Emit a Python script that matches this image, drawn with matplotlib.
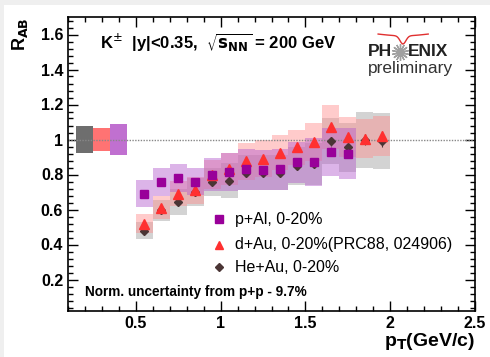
import matplotlib
matplotlib.use("Agg")
import matplotlib.pyplot as plt
import numpy as np
from matplotlib.patches import Rectangle
from matplotlib.ticker import MultipleLocator

plt.rcParams['font.family'] = ['Liberation Sans', 'DejaVu Sans']

# pT bin centres (GeV/c)
pt_pal = [0.55, 0.65, 0.75, 0.85, 0.95, 1.05, 1.15, 1.25, 1.35, 1.45, 1.55, 1.65, 1.75]
pt_dau = [0.55, 0.65, 0.75, 0.85, 0.95, 1.05, 1.15, 1.25, 1.35, 1.45, 1.55, 1.65, 1.75, 1.85, 1.95]
pt_heau = [0.55, 0.65, 0.75, 0.85, 0.95, 1.05, 1.15, 1.25, 1.35, 1.45, 1.55, 1.65, 1.75, 1.85, 1.95]

# R_AB values
r_pal = [0.69, 0.76, 0.78, 0.76, 0.80, 0.815, 0.83, 0.825, 0.83, 0.87, 0.87, 0.93, 0.92]
r_dau = [0.52, 0.61, 0.69, 0.71, 0.80, 0.83, 0.875, 0.89, 0.925, 0.955, 0.985, 1.07, 1.015, 1.005, 1.02]
r_heau = [0.48, 0.595, 0.645, 0.70, 0.755, 0.765, 0.81, 0.81, 0.81, 0.85, 0.86, 0.99, 0.955, 1.0, 0.99]

# statistical errors
stat_pal = [0.01, 0.01, 0.01, 0.01, 0.01, 0.01, 0.012, 0.012, 0.014, 0.016, 0.018, 0.025, 0.025]
stat_dau = [0.01, 0.01, 0.01, 0.01, 0.01, 0.01, 0.012, 0.012, 0.014, 0.016, 0.018, 0.025, 0.025, 0.025, 0.03]
stat_heau = [0.01, 0.01, 0.01, 0.01, 0.01, 0.01, 0.012, 0.012, 0.014, 0.016, 0.018, 0.025, 0.025, 0.03, 0.03]

# systematic errors
sys_pal = [0.077, 0.08, 0.08, 0.078, 0.095, 0.11, 0.116, 0.116, 0.116, 0.118, 0.137, 0.136, 0.145]
sys_dau = [0.057, 0.066, 0.072, 0.078, 0.085, 0.092, 0.105, 0.105, 0.10, 0.10, 0.11, 0.125, 0.115, 0.11, 0.115]
sys_heau = [0.05, 0.062, 0.074, 0.08, 0.08, 0.10, 0.10, 0.10, 0.10, 0.11, 0.12, 0.13, 0.14, 0.16, 0.16]

# global normalisation boxes at R_AB = 1: (x-left, x-right, half height)
norm_heau = (0.15, 0.245, 0.077)
norm_dau = (0.245, 0.35, 0.064)
norm_pal = (0.35, 0.45, 0.088)

bin_half = 0.05

fig = plt.figure(figsize=(4.9, 3.57), dpi=100, facecolor='#efefef')
fig.patches.append(Rectangle((4 / 490, 0), 1, 1 - 5 / 357, transform=fig.transFigure,
                             facecolor='white', edgecolor='none', zorder=-10))
ax = fig.add_axes([68 / 490, 1 - 311 / 357, (475 - 68) / 490, (311 - 17) / 357])
ax.set_zorder(5)
ax.set_xlim(0.1, 2.5)
ax.set_ylim(0.02, 1.70)

c_pal_box = (0.70, 0.35, 0.80)
c_dau_box = (1.0, 0.55, 0.55)
c_heau_box = (0.62, 0.62, 0.62)


def sys_boxes(x, y, s, color, alpha):
    for xi, yi, si in zip(x, y, s):
        ax.add_patch(Rectangle((xi - bin_half, yi - si), 2 * bin_half, 2 * si,
                               facecolor=color, edgecolor='none', alpha=alpha, zorder=1))


sys_boxes(pt_heau, r_heau, sys_heau, c_heau_box, 0.45)
sys_boxes(pt_dau, r_dau, sys_dau, c_dau_box, 0.45)
sys_boxes(pt_pal, r_pal, sys_pal, c_pal_box, 0.45)

# normalisation boxes
ax.add_patch(Rectangle((norm_heau[0], 1 - norm_heau[2]), norm_heau[1] - norm_heau[0], 2 * norm_heau[2],
                       facecolor='#6e6e6e', edgecolor='none', zorder=2))
ax.add_patch(Rectangle((norm_dau[0], 1 - norm_dau[2]), norm_dau[1] - norm_dau[0], 2 * norm_dau[2],
                       facecolor='#ff7373', edgecolor='none', zorder=2))
ax.add_patch(Rectangle((norm_pal[0], 1 - norm_pal[2]), norm_pal[1] - norm_pal[0], 2 * norm_pal[2],
                       facecolor='#c070d0', edgecolor='none', zorder=2))

ax.axhline(1.0, color='#888888', lw=1.0, ls=(0, (1, 1)), zorder=2)

ax.errorbar(pt_heau, r_heau, yerr=stat_heau, fmt='D', ms=4.2, color='#4a3535',
            mec='#4a3535', elinewidth=0.8, capsize=0, zorder=4)
ax.errorbar(pt_dau, r_dau, yerr=stat_dau, fmt='^', ms=6.5, color='#ff3030',
            mec='#ff3030', elinewidth=0.8, capsize=0, zorder=5)
ax.errorbar(pt_pal, r_pal, yerr=stat_pal, fmt='s', ms=6, color='#990099',
            mec='#990099', elinewidth=0.8, capsize=0, zorder=6)

# legend
leg_rows = [('s', '#990099', 5.5, 'p+Al, 0-20%', 0.545),
            ('^', '#ff3030', 5.5, 'd+Au, 0-20%(PRC88, 024906)', 0.400),
            ('D', '#4a3535', 4.0, 'He+Au, 0-20%', 0.270)]
for m, c, ms, lab, yy in leg_rows:
    ax.plot([0.99], [yy], marker=m, color=c, ms=ms, ls='none', zorder=6)
    ax.text(1.085, yy, lab, fontsize=11.5, va='center', ha='left', zorder=6)

ax.text(0.079, 0.912, r'K$^{\pm}$  |y|<0.35,  $\mathbf{\sqrt{s_{NN}}}$ = 200 GeV', transform=ax.transAxes,
        fontsize=12, fontweight='bold', va='center')
ax.text(0.042, 0.065, 'Norm. uncertainty from p+p - 9.7%', transform=ax.transAxes,
        fontsize=9.8, fontweight='bold', va='center')

# PHENIX logo
ax.text(0.738, 0.882, 'PH', transform=ax.transAxes, fontsize=12.5, fontweight='bold',
        va='center', ha='left', color='#222222')
ax.text(0.835, 0.882, 'ENIX', transform=ax.transAxes, fontsize=12.5, fontweight='bold',
        va='center', ha='left', color='#222222')
ax.plot([0.816], [0.882], transform=ax.transAxes, marker=(14, 2, 0), ms=12, color='#a0a0a0', mew=1.0)
ax.text(0.738, 0.826, 'preliminary', transform=ax.transAxes, fontsize=12.5,
        va='center', ha='left', color='#333333')
arc_x = np.linspace(0.762, 0.885, 40)
arc_y = 0.942 - 0.028 * np.exp(-((arc_x - 0.823) / 0.010) ** 2) - 0.006 * np.sin((arc_x - 0.762) / 0.123 * np.pi)
ax.plot(arc_x, arc_y, transform=ax.transAxes, color='#e03030', lw=1.0, clip_on=False)

# axes styling
ax.xaxis.set_major_locator(MultipleLocator(0.5))
ax.xaxis.set_minor_locator(MultipleLocator(0.1))
ax.yaxis.set_major_locator(MultipleLocator(0.2))
ax.yaxis.set_minor_locator(MultipleLocator(0.04))
ax.tick_params(which='both', direction='in', top=True, right=True, labelsize=11.5, width=1.0)
ax.tick_params(which='major', length=7)
ax.tick_params(which='minor', length=3.5)
ax.set_yticks([0.2, 0.4, 0.6, 0.8, 1.0, 1.2, 1.4, 1.6])
ax.set_yticklabels(['0.2', '0.4', '0.6', '0.8', '1', '1.2', '1.4', '1.6'])
ax.set_xticks([0.5, 1.0, 1.5, 2.0, 2.5])
ax.set_xticklabels(['0.5', '1', '1.5', '2', '2.5'])
for lab in ax.get_xticklabels() + ax.get_yticklabels():
    lab.set_fontweight('bold')
for sp in ax.spines.values():
    sp.set_linewidth(1.2)

fig.text(20 / 490, 1 - 34 / 357, r'R$_{\mathbf{AB}}$', rotation=90, fontsize=13, fontweight='bold',
         ha='center', va='center')
fig.text(475 / 490, 1 - 341 / 357, r'p$_{\mathbf{T}}$(GeV/c)', fontsize=14, fontweight='bold',
         ha='right', va='center')

fig.savefig('out.png', dpi=100, facecolor=fig.get_facecolor())
